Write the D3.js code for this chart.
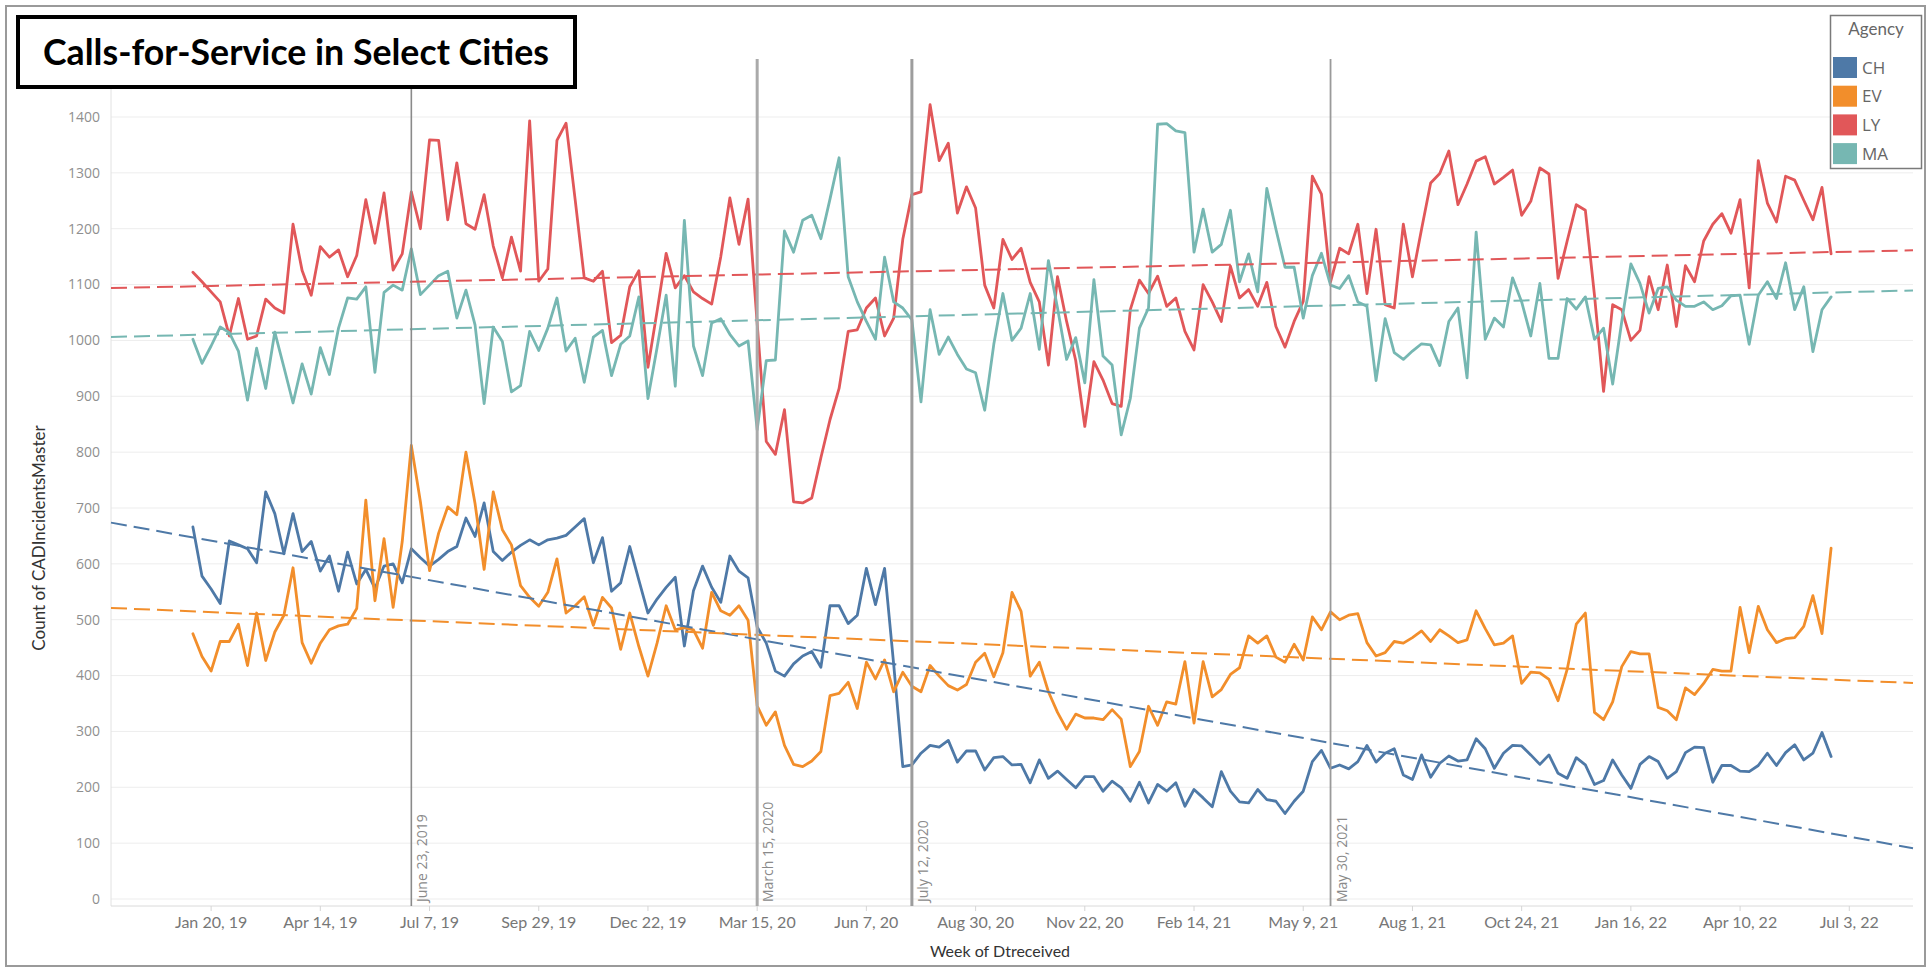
<!DOCTYPE html>
<html><head><meta charset="utf-8">
<script src="https://cdn.jsdelivr.net/npm/d3@7"></script>
<style>body{margin:0;background:#fff;} svg{display:block;}</style>
</head><body>
<svg id="chart" width="1931" height="969"></svg>
<script>
// ---------- DATA ----------
const agencies = ["CH", "EV", "LY", "MA"];
const agencyColors = ["#4e79a7", "#f28e2b", "#e15759", "#76b7b2"];
const firstWeek = "2019-01-06"; // weekly values start here (Sunday weeks)

const CH = [666,578,555,529,641,634,627,602,729,690,618,690,622,640,587,614,551,621,564,590,556,596,600,566,627,611,596,608,622,631,682,649,709,622,606,621,633,643,634,643,646,651,666,681,602,647,551,566,631,571,512,537,558,576,453,552,596,558,531,614,587,575,487,458,408,399,421,435,443,415,525,525,493,508,592,527,592,420,237,240,261,275,272,284,245,265,265,231,253,255,240,241,208,249,216,229,214,199,219,219,193,211,199,175,209,172,205,193,208,166,196,181,165,228,193,174,172,196,178,175,153,175,193,246,266,234,240,233,246,275,245,261,269,222,214,258,218,243,256,247,249,287,269,234,261,275,274,258,241,258,225,216,253,240,205,212,249,222,198,241,255,246,216,228,262,272,271,209,239,239,229,228,239,261,239,262,276,249,261,298,255];
const EV = [475,434,408,461,461,492,418,512,427,478,508,593,459,422,458,482,489,492,520,714,534,645,522,640,812,711,588,655,702,688,800,708,590,729,661,634,561,540,524,549,609,512,525,541,490,540,521,447,512,452,399,458,525,482,486,482,449,549,516,508,525,499,346,311,335,275,241,237,247,264,364,368,388,341,424,394,428,371,406,381,371,418,399,382,374,384,424,440,398,441,549,515,399,424,371,334,304,331,324,324,321,339,322,237,264,345,311,353,349,425,315,425,362,375,402,414,471,458,471,433,424,456,428,505,482,514,500,508,511,459,435,441,461,458,468,480,461,482,471,459,464,516,484,455,458,471,386,406,405,393,355,411,492,512,334,321,353,416,443,439,439,343,337,321,378,366,386,411,408,408,522,441,524,482,459,466,468,488,543,475,628];
const LY = [1122,1105,1087,1069,1008,1075,1002,1008,1074,1058,1049,1208,1125,1081,1168,1149,1162,1114,1152,1252,1174,1264,1126,1155,1266,1200,1359,1358,1216,1318,1209,1199,1261,1169,1112,1185,1124,1393,1106,1128,1358,1389,1252,1112,1106,1124,996,1009,1096,1125,952,1052,1156,1094,1116,1087,1075,1065,1150,1255,1172,1253,1030,819,796,876,711,709,718,790,858,914,1016,1019,1058,1076,1008,1040,1181,1261,1266,1422,1322,1353,1228,1275,1237,1099,1058,1181,1145,1165,1104,1069,956,1114,1034,964,846,962,929,887,882,1055,1108,1084,1115,1061,1076,1016,983,1100,1069,1034,1133,1076,1091,1061,1104,1025,988,1034,1070,1294,1262,1105,1165,1155,1208,1084,1199,1064,1058,1208,1114,1199,1282,1299,1339,1243,1280,1321,1329,1280,1292,1305,1224,1249,1309,1298,1111,1178,1243,1233,1081,909,1064,1055,1000,1018,1114,1055,1135,1025,1134,1105,1178,1208,1227,1192,1252,1094,1322,1246,1212,1294,1287,1251,1216,1274,1155];
const MA = [1002,959,990,1024,1014,981,893,986,914,1015,952,888,958,904,987,939,1022,1076,1074,1096,943,1086,1099,1090,1164,1082,1099,1116,1124,1040,1090,1028,887,1024,998,908,919,1016,982,1022,1076,981,1004,925,1006,1018,937,993,1008,1078,896,987,1081,918,1215,990,937,1031,1039,1011,990,999,840,964,965,1196,1158,1215,1224,1182,1253,1327,1114,1069,1034,1002,1149,1069,1058,1037,890,1055,975,1006,975,949,942,875,993,1084,1000,1022,1084,984,1143,1058,966,1005,924,1109,972,956,831,896,1022,1058,1387,1388,1375,1372,1158,1235,1158,1172,1233,1105,1155,1087,1272,1199,1131,1131,1040,1116,1156,1099,1093,1116,1069,1061,928,1039,978,966,981,994,992,955,1034,1058,933,1194,1002,1040,1024,1112,1069,1008,1102,968,968,1075,1056,1078,1002,1022,922,1034,1137,1102,1049,1093,1096,1072,1061,1061,1069,1055,1062,1080,1081,993,1081,1105,1075,1139,1055,1096,980,1055,1078];

const yTickValues = [0,100,200,300,400,500,600,700,800,900,1000,1100,1200,1300,1400];
const xTickDates = ["2019-01-20","2019-04-14","2019-07-07","2019-09-29","2019-12-22","2020-03-15","2020-06-07","2020-08-30","2020-11-22","2021-02-14","2021-05-09","2021-08-01","2021-10-24","2022-01-16","2022-04-10","2022-07-03"];
const refLineDates = ["2019-06-23","2020-03-15","2020-07-12","2021-05-30"];
const xDomainDates = ["2018-11-04","2022-08-21"];
const chartTitle = "Calls-for-Service in Select Cities";
const yAxisTitle = "Count of CADIncidentsMaster";
const xAxisTitle = "Week of Dtreceived";
const legendTitle = "Agency";

// ---------- SETUP ----------
const parse = d3.utcParse("%Y-%m-%d");
const seriesValues = [CH, EV, LY, MA];
const start = parse(firstWeek);
const series = agencies.map((name, i) => ({
  name, color: agencyColors[i],
  points: seriesValues[i].map((v, k) => ({ date: d3.utcWeek.offset(start, k), value: v }))
}));

const L = 111, R = 1913, T = 59, B = 906;
const x = d3.scaleUtc().domain(xDomainDates.map(parse)).range([L, R]);
const y = d3.scaleLinear().domain([0, 1400]).range([899, 117]);

const svg = d3.select("#chart");
svg.append("rect").attr("width", 1931).attr("height", 969).attr("fill", "#fff");

// outer frame
svg.append("rect").attr("x", 6).attr("y", 6).attr("width", 1919).attr("height", 960)
  .attr("fill", "none").attr("stroke", "#9a9a9a").attr("stroke-width", 2);

// gridlines
svg.append("g").selectAll("line").data(yTickValues).join("line")
  .attr("x1", L).attr("x2", R).attr("y1", d => y(d)).attr("y2", d => y(d))
  .attr("stroke", "#ededed").attr("stroke-width", 1);

// plot edges
svg.append("line").attr("x1", L).attr("x2", L).attr("y1", T).attr("y2", B)
  .attr("stroke", "#e2e2e2").attr("stroke-width", 1);
svg.append("line").attr("x1", L).attr("x2", R).attr("y1", B).attr("y2", B)
  .attr("stroke", "#dadada").attr("stroke-width", 1);

// y tick labels
svg.append("g").selectAll("text").data(yTickValues).join("text")
  .attr("x", 100).attr("y", d => y(d)).attr("dy", "0.35em")
  .attr("text-anchor", "end")
  .attr("font-family", "'Open Sans', sans-serif").attr("font-size", 14)
  .attr("fill", "#8f8f8f").text(d => d);

// x ticks + labels
const fmtTick = d3.utcFormat("%b %-d, %y");
const xt = svg.append("g");
xt.selectAll("line").data(xTickDates.map(parse)).join("line")
  .attr("x1", d => x(d)).attr("x2", d => x(d)).attr("y1", B).attr("y2", B + 5)
  .attr("stroke", "#d5d5d5");
xt.selectAll("text").data(xTickDates.map(parse)).join("text")
  .attr("x", d => x(d)).attr("y", 928).attr("text-anchor", "middle")
  .attr("font-family", "Lato, sans-serif").attr("font-size", 16)
  .attr("fill", "#777").text(d => fmtTick(d));

// axis titles
svg.append("text").attr("transform", "translate(45,538) rotate(-90)")
  .attr("text-anchor", "middle").attr("font-family", "Lato, sans-serif")
  .attr("font-size", 17).attr("fill", "#333").text(yAxisTitle);
svg.append("text").attr("x", 1000).attr("y", 957).attr("text-anchor", "middle")
  .attr("font-family", "Lato, sans-serif").attr("font-size", 16)
  .attr("fill", "#333").text(xAxisTitle);

// data lines
const line = d3.line().x(d => x(d.date)).y(d => y(d.value));
svg.append("g").selectAll("path").data(series).join("path")
  .attr("d", d => line(d.points)).attr("fill", "none")
  .attr("stroke", d => d.color).attr("stroke-width", 2.8)
  .attr("stroke-linejoin", "round").attr("stroke-linecap", "round");

// linear trend lines (least squares over time)
function trend(points) {
  const xs = points.map(p => +p.date), ys = points.map(p => p.value);
  const mx = d3.mean(xs), my = d3.mean(ys);
  let sxy = 0, sxx = 0;
  xs.forEach((xv, i) => { sxy += (xv - mx) * (ys[i] - my); sxx += (xv - mx) * (xv - mx); });
  const b = sxy / sxx, a = my - b * mx;
  return x.domain().map(dt => ({ date: dt, value: a + b * (+dt) }));
}
svg.append("g").selectAll("path").data(series).join("path")
  .attr("d", d => line(trend(d.points))).attr("fill", "none")
  .attr("stroke", d => d.color).attr("stroke-width", 2)
  .attr("stroke-dasharray", "16,7");

// reference lines
const fmtRef = d3.utcFormat("%B %-d, %Y");
const refStyle = [
  { stroke: "#8a8a8a", w: 1.6 }, { stroke: "#aaaaaa", w: 3 },
  { stroke: "#9d9d9d", w: 3 }, { stroke: "#9a9a9a", w: 1.8 }
];
const refG = svg.append("g");
refLineDates.map(parse).forEach((dt, i) => {
  const xx = x(dt);
  refG.append("line").attr("x1", xx).attr("x2", xx).attr("y1", T).attr("y2", B)
    .attr("stroke", refStyle[i].stroke).attr("stroke-width", refStyle[i].w);
  refG.append("text").attr("transform", `translate(${xx + 16},${B - 4}) rotate(-90)`)
    .attr("font-family", "'Open Sans', sans-serif").attr("font-size", 14)
    .attr("fill", "#8a8a8a").text(fmtRef(dt));
});

// title box
svg.append("rect").attr("x", 18).attr("y", 17).attr("width", 557).attr("height", 70)
  .attr("fill", "#fff").attr("stroke", "#000").attr("stroke-width", 4);
svg.append("text").attr("x", 296).attr("y", 65).attr("text-anchor", "middle")
  .attr("font-family", "Lato, sans-serif").attr("font-weight", 700).attr("font-size", 36)
  .attr("textLength", 506).attr("lengthAdjust", "spacingAndGlyphs")
  .attr("fill", "#000").text(chartTitle);

// legend
const lg = svg.append("g");
lg.append("rect").attr("x", 1830.5).attr("y", 15.5).attr("width", 91).attr("height", 153)
  .attr("fill", "#fff").attr("stroke", "#7a7a7a").attr("stroke-width", 1.5);
lg.append("text").attr("x", 1876).attr("y", 35).attr("text-anchor", "middle")
  .attr("font-family", "Lato, sans-serif").attr("font-size", 17).attr("fill", "#666")
  .text(legendTitle);
series.forEach((s, i) => {
  const yy = 57 + i * 28.7;
  lg.append("rect").attr("x", 1833).attr("y", yy).attr("width", 24).attr("height", 21)
    .attr("fill", s.color);
  lg.append("text").attr("x", 1862).attr("y", yy + 10.5).attr("dy", "0.36em")
    .attr("font-family", "'Open Sans', sans-serif").attr("font-size", 17).attr("fill", "#666")
    .text(s.name);
});
</script>
</body></html>
